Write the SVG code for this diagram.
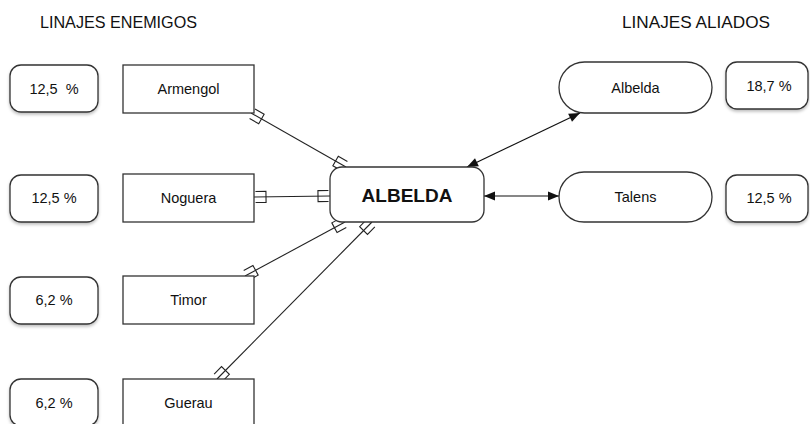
<svg xmlns="http://www.w3.org/2000/svg" width="810" height="424" viewBox="0 0 810 424">
<style>
text{font-family:"Liberation Sans",Arial,sans-serif;fill:#111;text-anchor:middle;dominant-baseline:central}
.title{font-size:16.5px;text-anchor:start;dominant-baseline:alphabetic}
.lbl{font-size:14.5px}
.pct{font-size:14.5px}
.main{font-size:19px;font-weight:bold}
.box{fill:#fff;stroke:#333;stroke-width:1.3}
.pbox{fill:#fff;stroke:#333;stroke-width:1.3;filter:url(#sh)}
.er{fill:none;stroke:#222;stroke-width:1.1;marker-start:url(#br);marker-end:url(#br)}
.ar{fill:none;stroke:#111;stroke-width:1.2;marker-start:url(#ah);marker-end:url(#ah)}
</style>
<defs>
<filter id="sh" x="-10%" y="-10%" width="130%" height="140%">
<feDropShadow dx="0" dy="2" stdDeviation="1.5" flood-color="#000" flood-opacity="0.25"/>
</filter>
<marker id="br" markerUnits="userSpaceOnUse" markerWidth="30" markerHeight="30" viewBox="-20 -10 30 20" refX="0" refY="0" orient="auto-start-reverse" overflow="visible">
<path d="M-1.5,-5.5 L-12,-5.5 L-12,5.5 L-1.5,5.5" fill="none" stroke="#222" stroke-width="1.1"/>
</marker>
<marker id="ah" markerUnits="userSpaceOnUse" markerWidth="14" markerHeight="12" viewBox="-12 -6 14 12" refX="0" refY="0" orient="auto-start-reverse" overflow="visible">
<path d="M0,0 L-11,-4.5 L-11,4.5 Z" fill="#111"/>
</marker>
</defs>

<g id="titles">
<text class="title" x="40" y="28" textLength="157" lengthAdjust="spacingAndGlyphs">LINAJES ENEMIGOS</text>
<text class="title" x="622" y="28" textLength="148" lengthAdjust="spacingAndGlyphs">LINAJES ALIADOS</text>
</g>

<g id="connectors">
<line class="er" x1="251" y1="113" x2="346" y2="167"/>
<line class="er" x1="254" y1="197" x2="330" y2="196"/>
<line class="er" x1="245" y1="276" x2="345" y2="222"/>
<line class="er" x1="217" y1="379" x2="372" y2="222"/>
<line class="ar" x1="467" y1="167" x2="580" y2="113"/>
<line class="ar" x1="484" y1="196" x2="559" y2="196"/>
</g>

<g id="pct-armengol"><rect class="pbox" x="10" y="65" width="88" height="47" rx="11"/><text class="pct" x="54" y="89" xml:space="preserve">12,5  %</text></g>
<g id="pct-noguera"><rect class="pbox" x="10" y="175" width="88" height="47" rx="11"/><text class="pct" x="54" y="198">12,5 %</text></g>
<g id="pct-timor"><rect class="pbox" x="10" y="277" width="88" height="47" rx="11"/><text class="pct" x="54" y="300">6,2 %</text></g>
<g id="pct-guerau"><rect class="pbox" x="10" y="379" width="88" height="47" rx="11"/><text class="pct" x="54" y="403">6,2 %</text></g>

<g id="armengol"><rect class="box" x="123" y="65" width="131" height="48"/><text class="lbl" x="188.5" y="89">Armengol</text></g>
<g id="noguera"><rect class="box" x="123" y="174" width="131" height="48"/><text class="lbl" x="188.5" y="198">Noguera</text></g>
<g id="timor"><rect class="box" x="123" y="276" width="131" height="48"/><text class="lbl" x="188.5" y="300">Timor</text></g>
<g id="guerau"><rect class="box" x="123" y="379" width="131" height="48"/><text class="lbl" x="188.5" y="403">Guerau</text></g>

<g id="albelda-main"><rect class="box" x="330" y="167" width="154" height="55" rx="12"/><text class="main" x="407" y="195">ALBELDA</text></g>

<g id="albelda"><rect class="box" x="559" y="62" width="153" height="51" rx="25.5"/><text class="lbl" x="635.5" y="88">Albelda</text></g>
<g id="talens"><rect class="box" x="559" y="172" width="153" height="50" rx="25"/><text class="lbl" x="635.5" y="197">Talens</text></g>

<g id="pct-albelda"><rect class="pbox" x="726" y="62" width="82" height="47" rx="11"/><text class="pct" x="769" y="86">18,7 %</text></g>
<g id="pct-talens"><rect class="pbox" x="726" y="175" width="82" height="47" rx="11"/><text class="pct" x="769" y="198">12,5 %</text></g>
</svg>
